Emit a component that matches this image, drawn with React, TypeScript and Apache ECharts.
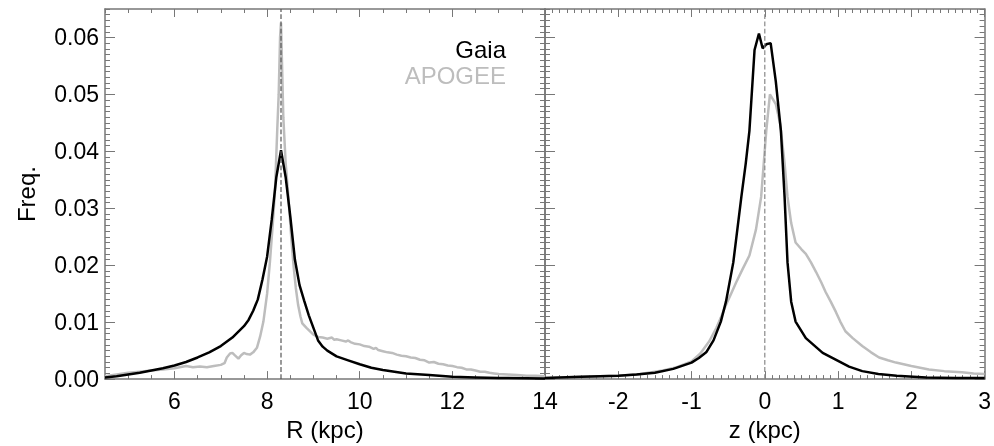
import React, { useEffect, useRef } from "react";
import * as echarts from "echarts";

// ---------- data ----------
const R_MIN = 4.5;
const R_MAX = 14;
const Z_MIN = -3;
const Z_MAX = 3;
const Y_MIN = 0;
const Y_MAX = 0.065;
const SUN_R = 8.3;
const SUN_Z = 0;

const R_TICKS = [6, 8, 10, 12, 14];
const Y_TICKS = [0, 0.01, 0.02, 0.03, 0.04, 0.05, 0.06];

const GAIA_R: number[][] = [
  [4.5, 0.0003], [4.75, 0.0005], [5.0, 0.0008], [5.25, 0.0011], [5.5, 0.0015],
  [5.75, 0.0019], [6.0, 0.0024], [6.25, 0.003], [6.5, 0.0038], [6.75, 0.0047],
  [7.0, 0.0058], [7.25, 0.0073], [7.5, 0.0093], [7.6, 0.0104], [7.7, 0.012],
  [7.8, 0.014], [7.9, 0.0175], [8.0, 0.0215], [8.1, 0.028], [8.2, 0.0355],
  [8.3, 0.0402], [8.4, 0.0355], [8.5, 0.0286], [8.6, 0.021], [8.7, 0.0165],
  [8.8, 0.0138], [8.9, 0.0112], [9.0, 0.009], [9.1, 0.0068], [9.2, 0.0057],
  [9.3, 0.005], [9.5, 0.004], [9.75, 0.0033], [10.0, 0.0026], [10.25, 0.002],
  [10.5, 0.0016], [10.75, 0.0013], [11.0, 0.001], [11.5, 0.0007], [12.0, 0.0004],
  [12.5, 0.0003], [13.0, 0.0002], [14.0, 0.0001],
];

const APOGEE_R: number[][] = [
  [4.5, 0.0005], [4.75, 0.0008], [5.0, 0.0011], [5.25, 0.0013], [5.5, 0.0015],
  [5.75, 0.0017], [6.0, 0.0019], [6.25, 0.0023], [6.4, 0.0021], [6.55, 0.0022],
  [6.7, 0.0021], [6.85, 0.0023], [7.0, 0.0025], [7.08, 0.0028], [7.13, 0.0038],
  [7.2, 0.0045], [7.25, 0.0046], [7.3, 0.0042], [7.38, 0.0036], [7.44, 0.0042],
  [7.5, 0.0046], [7.56, 0.0044], [7.63, 0.0043], [7.7, 0.0047], [7.78, 0.0055],
  [7.85, 0.0075], [7.92, 0.0101], [8.0, 0.015], [8.06, 0.0205], [8.12, 0.027],
  [8.17, 0.033], [8.22, 0.044], [8.25, 0.05], [8.28, 0.06], [8.3, 0.0626],
  [8.32, 0.056], [8.35, 0.046], [8.4, 0.038], [8.46, 0.032], [8.52, 0.025],
  [8.57, 0.02], [8.62, 0.016], [8.67, 0.013], [8.72, 0.011], [8.76, 0.0098],
  [8.85, 0.009], [9.0, 0.0078], [9.1, 0.0074], [9.2, 0.0073], [9.3, 0.0071],
  [9.4, 0.0073], [9.45, 0.0069], [9.5, 0.007], [9.6, 0.0068], [9.7, 0.0066],
  [9.75, 0.0068], [9.8, 0.0065], [9.9, 0.0062], [10.0, 0.0061], [10.1, 0.0058],
  [10.2, 0.0057], [10.3, 0.0053], [10.35, 0.0055], [10.4, 0.0051], [10.5, 0.0049],
  [10.6, 0.0047], [10.7, 0.0046], [10.8, 0.0043], [10.9, 0.0041], [11.0, 0.004],
  [11.1, 0.0038], [11.2, 0.0037], [11.3, 0.0034], [11.4, 0.0033], [11.5, 0.0029],
  [11.6, 0.003], [11.7, 0.0027], [11.8, 0.0026], [11.9, 0.0024], [12.0, 0.0023],
  [12.1, 0.0021], [12.2, 0.002], [12.3, 0.0017], [12.4, 0.0017], [12.5, 0.0015],
  [12.6, 0.0013], [12.7, 0.0013], [12.8, 0.0011], [12.9, 0.001], [13.0, 0.0009],
  [13.2, 0.0008], [13.4, 0.0007], [13.6, 0.0006], [13.8, 0.0006], [14.0, 0.0005],
];

const GAIA_Z: number[][] = [
  [-3.0, 0.0002], [-2.5, 0.0004], [-2.0, 0.0006], [-1.75, 0.0008], [-1.5, 0.0011],
  [-1.25, 0.0018], [-1.0, 0.0029], [-0.9, 0.0037], [-0.8, 0.0047], [-0.7, 0.0068],
  [-0.6, 0.0101], [-0.53, 0.0136], [-0.43, 0.0205], [-0.32, 0.032], [-0.26, 0.0379],
  [-0.21, 0.0436], [-0.14, 0.0578], [-0.08, 0.0607], [-0.03, 0.0581], [0.02, 0.0588],
  [0.08, 0.059], [0.15, 0.0523], [0.22, 0.0436], [0.27, 0.032], [0.31, 0.0205],
  [0.36, 0.0136], [0.42, 0.0101], [0.56, 0.0072], [0.79, 0.0046], [1.0, 0.0032],
  [1.15, 0.0022], [1.33, 0.0014], [1.55, 0.0009], [1.8, 0.0006], [2.2, 0.0003],
  [2.6, 0.0002], [3.0, 0.0002],
];

const APOGEE_Z: number[][] = [
  [-3.0, 0.0002], [-2.5, 0.0004], [-2.0, 0.0006], [-1.7, 0.0009], [-1.39, 0.0015],
  [-1.2, 0.0021], [-1.0, 0.0031], [-0.88, 0.0045], [-0.76, 0.0066], [-0.66, 0.009],
  [-0.6, 0.0108], [-0.53, 0.013], [-0.46, 0.015], [-0.39, 0.017], [-0.3, 0.0194],
  [-0.21, 0.0217], [-0.12, 0.0263], [-0.05, 0.032], [0.02, 0.0436], [0.07, 0.05],
  [0.15, 0.0483], [0.21, 0.0448], [0.27, 0.0379], [0.31, 0.032], [0.36, 0.0274],
  [0.42, 0.024], [0.5, 0.0228], [0.56, 0.022], [0.63, 0.0205], [0.7, 0.0188],
  [0.77, 0.017], [0.83, 0.0153], [0.9, 0.0136], [0.97, 0.0118], [1.03, 0.0101],
  [1.1, 0.0084], [1.2, 0.0072], [1.33, 0.0058], [1.45, 0.0047], [1.56, 0.0038],
  [1.68, 0.0033], [1.79, 0.0029], [2.0, 0.0023], [2.24, 0.0017], [2.45, 0.0014],
  [2.69, 0.0012], [2.85, 0.001], [3.0, 0.0009],
];

// ---------- styles ----------
const FONT = "Liberation Sans, Arial, Helvetica, sans-serif";
const AX = "#777";
const GREY = "#bdbdbd";
const BLACK = "#000";

function buildOption() {
  const ts = () => ({ color: AX, width: 1 });
  const lineOn = () => ({ show: true, onZero: false, lineStyle: { color: AX, width: 1.5 } });
  const lineOff = () => ({ show: false, onZero: false });
  const label = (extra: any) => ({ show: true, fontSize: 23, fontFamily: FONT, color: BLACK, ...extra });
  const nameStyle = { fontSize: 24, fontFamily: FONT, color: BLACK };

  const xAxis: any[] = [
    // 0 left bottom: line, minor ticks every 0.5, labels
    {
      type: "value", gridIndex: 0, position: "bottom", min: R_MIN, max: R_MAX, interval: 0.5,
      splitLine: { show: false }, axisLine: lineOn(),
      axisTick: { show: true, inside: true, length: 4, lineStyle: ts() },
      axisLabel: label({ customValues: R_TICKS, margin: 10 }),
      name: "R (kpc)", nameLocation: "middle", nameGap: 30, nameTextStyle: nameStyle,
    },
    // 1 left top
    {
      type: "value", gridIndex: 0, position: "top", min: R_MIN, max: R_MAX, interval: 0.5,
      splitLine: { show: false }, axisLine: lineOn(), axisLabel: { show: false },
      axisTick: { show: true, inside: true, length: 4, lineStyle: ts() },
    },
    // 2 right bottom
    {
      type: "value", gridIndex: 1, position: "bottom", min: Z_MIN, max: Z_MAX, interval: 1,
      splitLine: { show: false }, axisLine: lineOn(),
      axisTick: { show: true, inside: true, length: 8, lineStyle: ts() },
      minorTick: { show: true, splitNumber: 10, length: 4, lineStyle: ts() },
      axisLabel: label({ margin: 10, formatter: (v: number) => (v === Z_MIN ? "" : String(v)) }),
      name: "z (kpc)", nameLocation: "middle", nameGap: 30, nameTextStyle: nameStyle,
    },
    // 3 right top
    {
      type: "value", gridIndex: 1, position: "top", min: Z_MIN, max: Z_MAX, interval: 1,
      splitLine: { show: false }, axisLine: lineOn(), axisLabel: { show: false },
      axisTick: { show: true, inside: true, length: 8, lineStyle: ts() },
      minorTick: { show: true, splitNumber: 10, length: 4, lineStyle: ts() },
    },
    // 4 left bottom major ticks
    {
      type: "value", gridIndex: 0, position: "bottom", min: R_MIN, max: R_MAX,
      splitLine: { show: false }, axisLine: lineOff(), axisLabel: { show: false },
      axisTick: { show: true, inside: true, length: 8, customValues: R_TICKS, lineStyle: ts() },
    },
    // 5 left top major ticks
    {
      type: "value", gridIndex: 0, position: "top", min: R_MIN, max: R_MAX,
      splitLine: { show: false }, axisLine: lineOff(), axisLabel: { show: false },
      axisTick: { show: true, inside: true, length: 8, customValues: R_TICKS, lineStyle: ts() },
    },
  ];

  const yMinor = (g: number, pos: string) => ({
    type: "value", gridIndex: g, position: pos, min: Y_MIN, max: Y_MAX, interval: 0.001,
    splitLine: { show: false }, axisLine: lineOn(), axisLabel: { show: false },
    axisTick: { show: true, inside: true, length: 5, lineStyle: ts() },
  });
  const yMajor = (g: number, pos: string) => ({
    type: "value", gridIndex: g, position: pos, min: Y_MIN, max: Y_MAX,
    splitLine: { show: false }, axisLine: lineOff(), axisLabel: { show: false },
    axisTick: { show: true, inside: true, length: 10, customValues: Y_TICKS, lineStyle: ts() },
  });

  const yAxis: any[] = [
    {
      ...yMinor(0, "left"),
      axisLabel: label({ customValues: Y_TICKS, margin: 6, formatter: (v: number) => v.toFixed(2) }),
      name: "Freq.", nameLocation: "middle", nameGap: 67, nameTextStyle: nameStyle,
    },
    yMinor(0, "right"),
    yMinor(1, "left"),
    yMinor(1, "right"),
    yMajor(0, "left"),
    yMajor(0, "right"),
    yMajor(1, "left"),
    yMajor(1, "right"),
  ];

  const line = (data: number[][], color: string, xi: number, yi: number) => ({
    type: "line", xAxisIndex: xi, yAxisIndex: yi, data, symbol: "none",
    lineStyle: { color, width: 2.5 },
  });
  const dashed = (x: number, color: string, xi: number, yi: number) => ({
    type: "line", xAxisIndex: xi, yAxisIndex: yi, symbol: "none",
    data: [[x, Y_MIN], [x, Y_MAX]],
    lineStyle: { color, width: 1.2, type: "dashed", dashOffset: 0 },
  });

  return {
    animation: false,
    grid: [
      { left: 105, top: 9, width: 440, height: 376 },
      { left: 545, top: 9, width: 441, height: 376 },
    ],
    xAxis,
    yAxis,
    series: [
      line(APOGEE_R, GREY, 0, 0),
      line(GAIA_R, BLACK, 0, 0),
      dashed(SUN_R, "#555", 0, 0),
      line(APOGEE_Z, GREY, 2, 2),
      line(GAIA_Z, BLACK, 2, 2),
      dashed(SUN_Z, "#888", 2, 2),
    ],
    graphic: [
      { type: "text", right: 488, top: 37, style: { text: "Gaia", fill: BLACK, fontSize: 24, fontFamily: FONT, textAlign: "right" } },
      { type: "text", right: 488, top: 63, style: { text: "APOGEE", fill: GREY, fontSize: 24, fontFamily: FONT, textAlign: "right" } },
    ],
  };
}

export default function App() {
  const ref = useRef<HTMLDivElement>(null);
  useEffect(() => {
    if (!ref.current) return;
    const chart = echarts.init(ref.current, undefined, { renderer: "svg" });
    chart.setOption(buildOption());
    return () => chart.dispose();
  }, []);
  return <div ref={ref} style={{ position: "fixed", left: 0, top: 0, width: 994, height: 446 }} />;
}
